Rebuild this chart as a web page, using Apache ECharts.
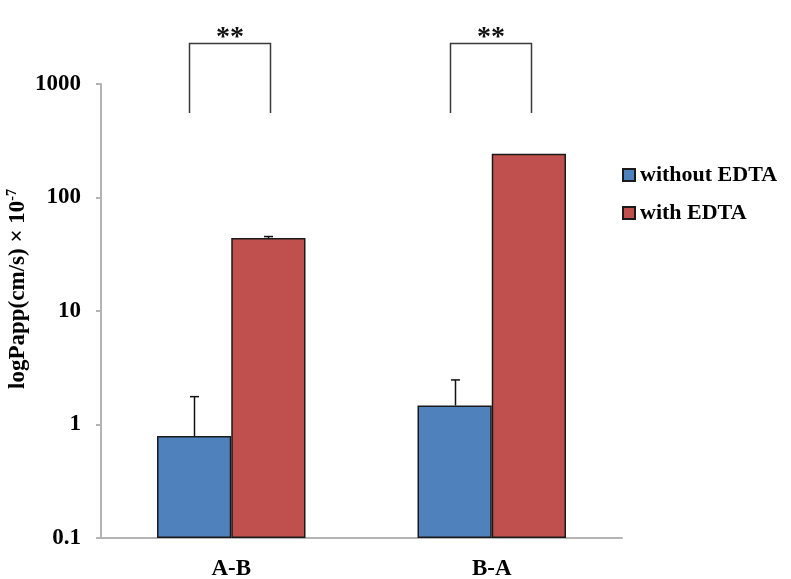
<!DOCTYPE html>
<html>
<head>
<meta charset="utf-8">
<script src="https://cdn.jsdelivr.net/npm/echarts@6/dist/echarts.min.js"></script>
<style>
    html, body { margin: 0; padding: 0; background: #fff; }
    #chart { width: 791px; height: 579px; }
</style>
</head>
<body>
<div id="chart"></div>
<script>
const categories = ['A-B', 'B-A'];
const withoutEdta = [0.79, 1.47];
const withEdta = [44, 243];
// upper error bar lengths
const withoutEdtaErr = [0.97, 1.0];
const withEdtaErr = [1.3, 0];
// significance brackets
const sigMarks = ['**', '**'];
const bracketTop = [2300, 2300];
const bracketBottom = [555, 555];

const FONT = "'Liberation Serif', 'Times New Roman', serif";
const GAP = 0.43;

function errorBar(side) {
    return function (params, api) {
        const cat = api.value(0);
        const mean = api.value(1);
        const err = api.value(2);
        if (!err) {
            return;
        }
        const band = api.size([1, 0])[0];
        const off = side * band * (1 - GAP) / 4;
        const base = api.coord([cat, mean]);
        const top = api.coord([cat, mean + err]);
        const x = Math.round(base[0] + off) + 0.5;
        const st = {stroke: '#111', lineWidth: 1.5};
        return {
            type: 'group',
            children: [
                {type: 'line', shape: {x1: x, y1: base[1], x2: x, y2: top[1]}, style: st},
                {type: 'line', shape: {x1: x - 4.5, y1: top[1], x2: x + 4.5, y2: top[1]}, style: st}
            ]
        };
    };
}

function bracket(params, api) {
    const cat = api.value(0);
    const band = api.size([1, 0])[0];
    const top = api.coord([cat, api.value(1)]);
    const bottom = api.coord([cat, api.value(2)]);
    const xl = Math.round(top[0] - band * 0.162) + 0.5;
    const xr = Math.round(top[0] + band * 0.15) + 0.5;
    const yt = Math.round(top[1]) + 0.5;
    const st = {stroke: '#3a3a3a', lineWidth: 1.5, fill: null};
    return {
        type: 'group',
        children: [
            {type: 'polyline', shape: {points: [[xl, bottom[1]], [xl, yt], [xr, yt], [xr, bottom[1]]]}, style: st},
            {
                type: 'text',
                x: (xl + xr) / 2,
                y: yt + 8,
                style: {
                    text: sigMarks[params.dataIndex],
                    font: 'bold 28px ' + FONT,
                    fill: '#111',
                    align: 'center',
                    verticalAlign: 'bottom'
                }
            }
        ]
    };
}

const chart = echarts.init(document.getElementById('chart'));
chart.setOption({
    backgroundColor: '#fff',
    animation: false,
    legend: {
        orient: 'vertical',
        left: 617,
        top: 159,
        itemWidth: 12,
        itemHeight: 12,
        itemGap: 16,
        icon: 'rect',
        data: ['without EDTA', 'with EDTA'],
        textStyle: {
            fontFamily: FONT,
            fontWeight: 'bold',
            fontSize: 22,
            color: '#000'
        }
    },
    grid: {
        left: 101,
        right: 169,
        top: 84,
        bottom: 41,
        outerBoundsMode: 'none'
    },
    xAxis: {
        type: 'category',
        data: categories,
        axisLine: {lineStyle: {color: '#b4b4b4', width: 2}},
        axisTick: {length: 7, lineStyle: {color: '#b4b4b4', width: 2}},
        axisLabel: {
            margin: 20,
            fontFamily: FONT,
            fontWeight: 'bold',
            fontSize: 23,
            color: '#000'
        }
    },
    yAxis: {
        type: 'log',
        logBase: 10,
        min: 0.1,
        max: 1000,
        startValue: 0.1,
        name: 'logPapp(cm/s) × 10{sup|-7}',
        nameLocation: 'middle',
        nameGap: 70,
        nameMoveOverlap: false,
        nameTextStyle: {
            fontFamily: FONT,
            fontWeight: 'bold',
            fontSize: 23,
            color: '#000',
            padding: [0, 0, 0, 44],
            rich: {
                sup: {
                    fontFamily: FONT,
                    fontSize: 14,
                    fontWeight: 'bold',
                    color: '#000',
                    verticalAlign: 'top',
                    padding: [0, 0, 12, 0]
                }
            }
        },
        axisLine: {show: true, lineStyle: {color: '#b4b4b4', width: 2}},
        axisTick: {show: true, length: 5, lineStyle: {color: '#b4b4b4', width: 2}},
        splitLine: {show: false},
        axisLabel: {
            margin: 20,
            fontFamily: FONT,
            fontWeight: 'bold',
            fontSize: 23,
            color: '#000',
            formatter: function (v) {
                return String(Math.round(v * 10) / 10);
            }
        }
    },
    series: [
        {
            name: 'without EDTA',
            type: 'bar',
            barGap: 0,
            barCategoryGap: GAP * 100 + '%',
            itemStyle: {color: '#4f81bd', borderColor: '#1a1a1a', borderWidth: 1.5},
            data: withoutEdta
        },
        {
            name: 'with EDTA',
            type: 'bar',
            barGap: 0,
            barCategoryGap: GAP * 100 + '%',
            itemStyle: {color: '#c0504d', borderColor: '#1a1a1a', borderWidth: 1.5},
            data: withEdta
        },
        {
            type: 'custom',
            renderItem: errorBar(-1),
            clip: false,
            z: 5,
            encode: {x: 0, y: 1},
            data: categories.map((c, i) => [i, withoutEdta[i], withoutEdtaErr[i]])
        },
        {
            type: 'custom',
            renderItem: errorBar(1),
            clip: false,
            z: 5,
            encode: {x: 0, y: 1},
            data: categories.map((c, i) => [i, withEdta[i], withEdtaErr[i]])
        },
        {
            type: 'custom',
            renderItem: bracket,
            clip: false,
            z: 5,
            encode: {x: 0, y: 1},
            data: categories.map((c, i) => [i, bracketTop[i], bracketBottom[i]])
        }
    ]
});
</script>
</body>
</html>
